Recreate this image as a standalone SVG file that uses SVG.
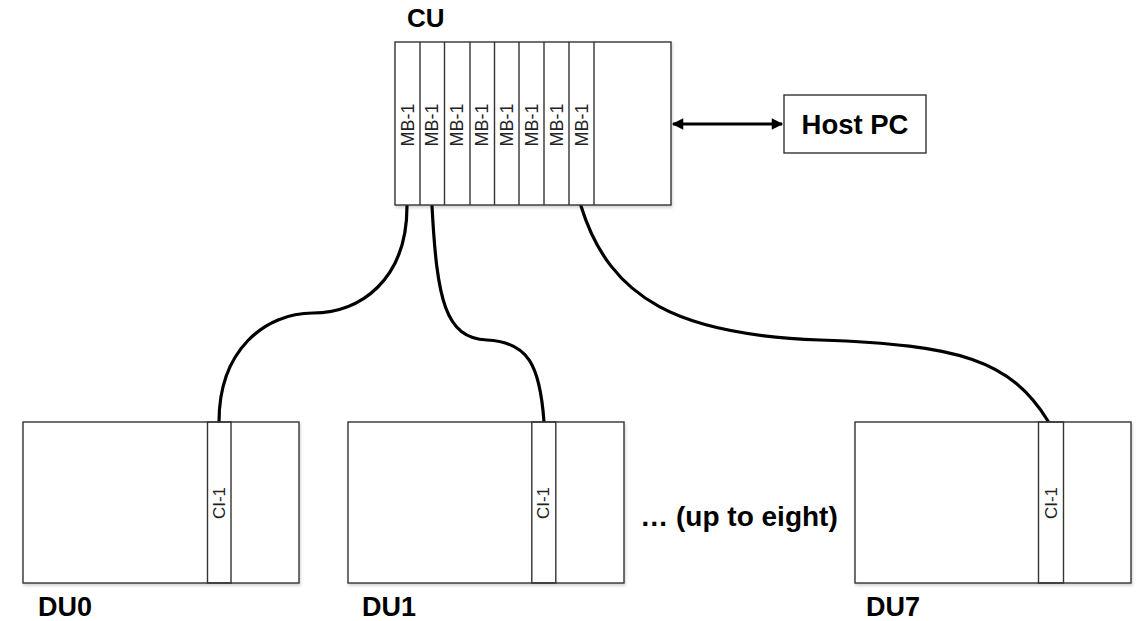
<svg xmlns="http://www.w3.org/2000/svg" width="1137" height="621" viewBox="0 0 1137 621">
  <style>
    .box { fill: #fff; stroke: #333; stroke-width: 1.4; }
    .slot { fill: none; stroke: #333; stroke-width: 1.4; }
    .lbl { font-family: "Liberation Sans", Arial, sans-serif; font-weight: bold; fill: #000; }
    .mb { font-family: "Liberation Sans", Arial, sans-serif; font-size: 18px; fill: #222; text-anchor: middle; dominant-baseline: central; }
    .ci { font-family: "Liberation Sans", Arial, sans-serif; font-size: 17px; fill: #222; text-anchor: middle; dominant-baseline: central; }
    .cable { fill: none; stroke: #000; stroke-width: 3.2; stroke-linecap: round; }
  </style>
  <defs>
    <filter id="sh" x="-5%" y="-5%" width="110%" height="115%">
      <feDropShadow dx="1" dy="2" stdDeviation="1.5" flood-color="#000" flood-opacity="0.18"/>
    </filter>
    <marker id="ah" viewBox="0 0 10 10" refX="9" refY="5" markerWidth="4.2" markerHeight="3.8" orient="auto-start-reverse" markerUnits="strokeWidth">
      <path d="M0,0 L10,5 L0,10 Z" fill="#000"/>
    </marker>
  </defs>

  <g id="connectors">
    <path class="cable" d="M407,206 C407,280 360,313 313,313 C265,313 219,350 219,422"/>
    <path class="cable" d="M432,206 C437,300 445,338 487,340 C528,342 540,365 544,422"/>
    <path class="cable" d="M581,206 C610,300 680,335 820,340 C960,345 1010,360 1048,421"/>
    <line x1="673" y1="124" x2="782" y2="124" stroke="#000" stroke-width="3" marker-start="url(#ah)" marker-end="url(#ah)"/>
  </g>

  <g id="CU">
    <rect class="box" x="395" y="42" width="276" height="163" filter="url(#sh)"/>
    <g class="slot">
      <line x1="420" y1="42" x2="420" y2="205"/>
      <line x1="444.5" y1="42" x2="444.5" y2="205"/>
      <line x1="470" y1="42" x2="470" y2="205"/>
      <line x1="494.5" y1="42" x2="494.5" y2="205"/>
      <line x1="519" y1="42" x2="519" y2="205"/>
      <line x1="544" y1="42" x2="544" y2="205"/>
      <line x1="569" y1="42" x2="569" y2="205"/>
      <line x1="594" y1="42" x2="594" y2="205"/>
    </g>
    <text class="mb" transform="translate(407.5,125) rotate(-90)">MB-1</text>
    <text class="mb" transform="translate(432.3,125) rotate(-90)">MB-1</text>
    <text class="mb" transform="translate(457.2,125) rotate(-90)">MB-1</text>
    <text class="mb" transform="translate(482.3,125) rotate(-90)">MB-1</text>
    <text class="mb" transform="translate(506.8,125) rotate(-90)">MB-1</text>
    <text class="mb" transform="translate(531.5,125) rotate(-90)">MB-1</text>
    <text class="mb" transform="translate(556.5,125) rotate(-90)">MB-1</text>
    <text class="mb" transform="translate(581.5,125) rotate(-90)">MB-1</text>
    <text class="lbl" x="407" y="27" font-size="26">CU</text>
  </g>

  <g id="HostPC">
    <rect class="box" x="784" y="95" width="142" height="58"/>
    <text class="lbl" x="855" y="134" font-size="27.5" text-anchor="middle">Host PC</text>
  </g>

  <g id="DU0">
    <rect class="box" x="23" y="422" width="276" height="161" filter="url(#sh)"/>
    <rect class="slot" x="207.5" y="422" width="23.5" height="161"/>
    <text class="ci" transform="translate(219.2,503) rotate(-90)">CI-1</text>
    <text class="lbl" x="38" y="616" font-size="27">DU0</text>
  </g>

  <g id="DU1">
    <rect class="box" x="348" y="422" width="276" height="161" filter="url(#sh)"/>
    <rect class="slot" x="531.8" y="422" width="24" height="161"/>
    <text class="ci" transform="translate(543.8,503) rotate(-90)">CI-1</text>
    <text class="lbl" x="362" y="616" font-size="27">DU1</text>
  </g>

  <text id="more" class="lbl" x="739" y="526" font-size="28" text-anchor="middle">… (up to eight)</text>

  <g id="DU7">
    <rect class="box" x="855" y="422" width="276" height="161" filter="url(#sh)"/>
    <rect class="slot" x="1038.5" y="422" width="25" height="161"/>
    <text class="ci" transform="translate(1051,503) rotate(-90)">CI-1</text>
    <text class="lbl" x="866" y="616" font-size="27">DU7</text>
  </g>
</svg>
